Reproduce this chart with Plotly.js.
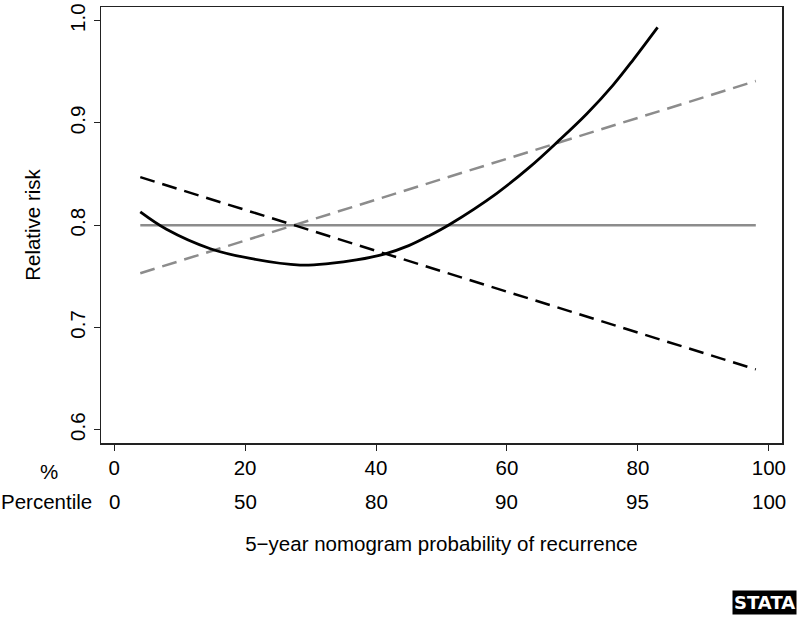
<!DOCTYPE html>
<html>
<head>
<meta charset="utf-8">
<script src="https://cdn.plot.ly/plotly-3.0.1.min.js"></script>
<style>html,body{margin:0;padding:0;background:#fff;}</style>
</head>
<body>
<div id="chart" style="width:809px;height:618px;"></div>
<script>
// Curve (black solid)
const curveX = [4, 8, 14.7, 20.8, 28.4, 33, 37, 41.4, 45, 48.2, 51.3, 58.4, 63.5, 67.8, 72.2, 76.2, 79.3, 83];
const curveY = [0.813, 0.796, 0.777, 0.7675, 0.761, 0.7626, 0.766, 0.772, 0.780, 0.790, 0.801, 0.831, 0.857, 0.882, 0.909, 0.937, 0.962, 0.9935];
// Constant (gray solid)
const constX = [4, 98];
const constY = [0.800, 0.800];
// Decreasing linear (black dashed)
const decX = [4, 98];
const decY = [0.847, 0.659];
// Increasing linear (gray dashed)
const incX = [4, 98];
const incY = [0.753, 0.941];

const xTicks = [0, 20, 40, 60, 80, 100];
const xTickText = ['0', '20', '40', '60', '80', '100'];
const percentileText = ['0', '50', '80', '90', '95', '100'];
const yTicks = [0.6, 0.7, 0.8, 0.9, 1.0];
const yTickText = ['0.6', '0.7', '0.8', '0.9', '1.0'];

const FONT = 'Liberation Sans, Arial, sans-serif';
const FS = 20.5;
const GRAY = '#8c8c8c';
const DASH = '15px,8px';

const traces = [
  {x: constX, y: constY, mode: 'lines', line: {color: GRAY, width: 2.5}, hoverinfo: 'skip'},
  {x: incX, y: incY, mode: 'lines', line: {color: GRAY, width: 2.5, dash: DASH}, hoverinfo: 'skip'},
  {x: decX, y: decY, mode: 'lines', line: {color: '#000', width: 2.5, dash: DASH}, hoverinfo: 'skip'},
  {x: curveX, y: curveY, mode: 'lines', line: {color: '#000', width: 2.8, shape: 'spline', smoothing: 1}, hoverinfo: 'skip'}
];

const annotations = percentileText.map((t, i) => ({
  x: xTicks[i], xref: 'x', y: -0.1347, yref: 'paper',
  text: t, showarrow: false, xanchor: 'center', yanchor: 'middle',
  font: {family: FONT, size: FS, color: '#000'}
}));
annotations.push({
  x: -0.0764, xref: 'paper', y: -0.066, yref: 'paper', text: '%',
  showarrow: false, xanchor: 'center', yanchor: 'middle',
  font: {family: FONT, size: FS, color: '#000'}
});
annotations.push({
  x: -0.0103, xref: 'paper', y: -0.1347, yref: 'paper', text: 'Percentile',
  showarrow: false, xanchor: 'right', yanchor: 'middle',
  font: {family: FONT, size: FS, color: '#000'}
});
annotations.push({
  x: 0.975, xref: 'paper', y: -0.3656, yref: 'paper', text: '<b>STATA</b>',
  showarrow: false, xanchor: 'center', yanchor: 'middle',
  bgcolor: '#000', borderpad: 1,
  font: {family: 'DejaVu Sans, sans-serif', size: 18, color: '#fff'}
});

const layout = {
  width: 809, height: 618,
  margin: {l: 101, r: 27, t: 7, b: 175, pad: 0},
  paper_bgcolor: '#fff', plot_bgcolor: '#fff',
  showlegend: false,
  font: {family: FONT, size: FS, color: '#000'},
  xaxis: {
    range: [-2, 102], tickvals: xTicks, ticktext: xTickText,
    showgrid: false, zeroline: false, showline: true, mirror: true,
    linecolor: '#222', linewidth: 1.5, ticks: 'outside', ticklen: 6, tickcolor: '#222',
    tickfont: {family: FONT, size: FS, color: '#000'},
    title: {text: '5\u2212year nomogram probability of recurrence', standoff: 58,
            font: {family: FONT, size: FS, color: '#000'}},
    automargin: false
  },
  yaxis: {
    range: [0.587, 1.0134], tickvals: yTicks, ticktext: yTickText, tickangle: -90,
    showgrid: false, zeroline: false, showline: true, mirror: true,
    linecolor: '#222', linewidth: 1.5, ticks: 'outside', ticklen: 6, tickcolor: '#222',
    tickfont: {family: FONT, size: FS, color: '#000'},
    title: {text: 'Relative risk', standoff: 20, font: {family: FONT, size: FS, color: '#000'}},
    automargin: false
  },
  annotations: annotations
};

Plotly.newPlot('chart', traces, layout, {displayModeBar: false, staticPlot: true});
</script>
</body>
</html>
